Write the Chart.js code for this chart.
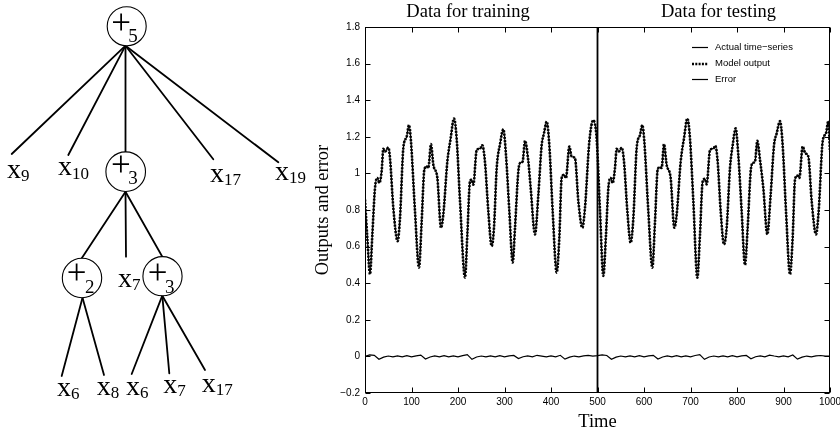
<!DOCTYPE html>
<html><head><meta charset="utf-8">
<script src="https://cdn.jsdelivr.net/npm/chart.js@4/dist/chart.umd.min.js"></script>
<style>
html,body{margin:0;padding:0;background:#fff;}
#wrap{position:relative;width:840px;height:434px;overflow:hidden;background:#fff;}
#c{position:absolute;left:0;top:0;}
#tree{position:absolute;left:0;top:0;pointer-events:none;}
</style></head><body>
<div id="wrap">
<canvas id="c" width="840" height="434"></canvas>
<svg id="tree" width="840" height="434" xmlns="http://www.w3.org/2000/svg" font-family="'Liberation Serif', 'Times New Roman', serif" fill="#000">
  <text x="468" y="17" text-anchor="middle" font-size="18.5">Data for training</text>
  <text x="718.5" y="17" text-anchor="middle" font-size="18.5">Data for testing</text>
  <g stroke="#000" stroke-width="1.8" stroke-linecap="round">
    <line x1="125.5" y1="45.7" x2="11.7" y2="154"/>
    <line x1="125.5" y1="45.7" x2="68.3" y2="155"/>
    <line x1="125.5" y1="45.7" x2="125.5" y2="151.7"/>
    <line x1="125.5" y1="45.7" x2="213.3" y2="159.3"/>
    <line x1="125.5" y1="45.7" x2="278.3" y2="162.3"/>
    <line x1="125.5" y1="191.7" x2="81.7" y2="258.3"/>
    <line x1="125.5" y1="191.7" x2="126" y2="256.7"/>
    <line x1="125.5" y1="191.7" x2="162.3" y2="256.7"/>
    <line x1="82.5" y1="297.7" x2="61.7" y2="376"/>
    <line x1="82.5" y1="297.7" x2="104" y2="375"/>
    <line x1="162.3" y1="295.7" x2="131.7" y2="374"/>
    <line x1="162.3" y1="295.7" x2="169.3" y2="373.3"/>
    <line x1="162.3" y1="295.7" x2="205" y2="370"/>
  </g>
  <g stroke="#000" stroke-width="1.1" fill="#fff">
    <circle cx="126.7" cy="26.2" r="19.5"/>
    <circle cx="125.7" cy="171.7" r="19.8"/>
    <circle cx="82" cy="278" r="19.7"/>
    <circle cx="162.5" cy="276.2" r="19.6"/>
  </g>
  <text x="121.2" y="33.9" text-anchor="middle" font-size="35">+</text>
  <text x="128.3" y="41.7" font-size="19">5</text>
  <text x="120.8" y="176" text-anchor="middle" font-size="35">+</text>
  <text x="128.3" y="184" font-size="19">3</text>
  <text x="76.7" y="283.9" text-anchor="middle" font-size="35">+</text>
  <text x="85" y="293" font-size="19">2</text>
  <text x="157.5" y="283.9" text-anchor="middle" font-size="35">+</text>
  <text x="165" y="293" font-size="19">3</text>
  <g font-size="28">
    <text x="7" y="178">x<tspan font-size="17" dy="3">9</tspan></text>
    <text x="58" y="175">x<tspan font-size="17" dy="4">10</tspan></text>
    <text x="210" y="182">x<tspan font-size="17" dy="3">17</tspan></text>
    <text x="275" y="180">x<tspan font-size="17" dy="3">19</tspan></text>
    <text x="118" y="287">x<tspan font-size="17" dy="3">7</tspan></text>
    <text x="57" y="396">x<tspan font-size="17" dy="3">6</tspan></text>
    <text x="96.7" y="395">x<tspan font-size="17" dy="3">8</tspan></text>
    <text x="126" y="395">x<tspan font-size="17" dy="3">6</tspan></text>
    <text x="163.3" y="393">x<tspan font-size="17" dy="3">7</tspan></text>
    <text x="201.7" y="392">x<tspan font-size="17" dy="3">17</tspan></text>
  </g>
</svg>
</div>
<script>
// ---- data ----
const timeKnots = [0,5,10.8,15.8,21.5,26.5,30.8,35.8,39.4,43.4,50.2,53.8,60.9,70.2,75.3,82.4,89.6,94.6,98.9,107.5,116.1,121.9,127.6,132.6,136.2,141.9,147,155.6,163.4,168.4,177.1,184.2,191.4,197.1,204.3,215.1,220.1,225.8,229.4,233,240.1,247.3,252.3,257.9,265.2,272.4,277.4,283.2,290.3,297.5,303.2,310.4,317.6,322.6,329.7,333.3,339,344.1,351.3,356.3,365.6,372.8,379.9,384.9,390.7,396.4,403.6,412.2,417.9,422.9,427.9,432.2,439.4,444.4,451.6,458.8,467.4,473.1,482.4,491,498.2,
505.4,512.5,518.3,523.3,528.3,532.6,537.6,541.2,546.2,552,557,564.2,571.3,577.1,584.2,591.4,596.4,600.7,609.3,617.9,623.7,629.4,634.4,638,643,648.7,657.3,665.2,670.3,678.9,686,693.2,698.9,706.1,714.7,720.4,726.2,731.2,734.8,741.9,749.1,753.4,758.4,764.9,772,777.8,784.9,790.7,797.1,802.8,810,817.2,822.9,829.4,833.7,838.7,843.7,849.5,856.6,865.2,872.4,879.6,885.3,892.5,898.2,905.4,914,919.7,924.7,929.7,934.1,941.2,946.9,953.4,960.6,969.9,975.6,984.2,991.4,996.4,1000];
const actualSeries = [0.857,0.648,0.449,0.667,0.92,0.975,0.948,1.011,1.134,1.12,1.141,1.083,0.812,0.63,0.757,1.138,1.2,1.264,1.174,0.793,0.485,0.739,1.02,1.038,1.03,1.16,1.047,0.975,0.703,0.775,1.065,1.192,1.3,1.19,0.848,0.43,0.667,0.957,0.966,0.938,1.127,1.136,1.154,1.065,0.793,0.603,0.703,1.029,1.159,1.241,1.1,0.793,0.513,0.703,1.011,1.056,1.065,1.178,1.065,0.92,0.667,0.884,1.154,1.219,1.283,1.154,0.793,0.458,0.648,0.975,0.993,0.975,1.147,1.092,1.083,0.848,0.703,0.812,1.174,1.29,1.19,
0.793,0.44,0.667,0.92,0.975,0.948,1.029,1.134,1.12,1.141,1.065,0.793,0.621,0.757,1.138,1.21,1.264,1.174,0.793,0.485,0.739,1.02,1.034,1.03,1.16,1.047,0.975,0.703,0.775,1.065,1.192,1.3,1.19,0.848,0.43,0.667,0.957,0.97,0.94,1.127,1.136,1.15,1.065,0.793,0.612,0.703,1.029,1.154,1.246,1.1,0.793,0.5,0.703,1.011,1.056,1.065,1.178,1.074,0.92,0.667,0.884,1.154,1.219,1.286,1.154,0.793,0.449,0.648,0.966,0.988,0.975,1.147,1.11,1.092,0.848,0.667,0.793,1.174,1.22,1.286,1.12];
const modelOutput = [0.857,0.648,0.449,0.667,0.92,0.975,0.948,1.011,1.134,1.12,1.141,1.083,0.812,0.63,0.757,1.138,1.2,1.264,1.174,0.793,0.485,0.739,1.02,1.038,1.03,1.16,1.047,0.975,0.703,0.775,1.065,1.192,1.3,1.19,0.848,0.43,0.667,0.957,0.966,0.938,1.127,1.136,1.154,1.065,0.793,0.603,0.703,1.029,1.159,1.241,1.1,0.793,0.513,0.703,1.011,1.056,1.065,1.178,1.065,0.92,0.667,0.884,1.154,1.219,1.283,1.154,0.793,0.458,0.648,0.975,0.993,0.975,1.147,1.092,1.083,0.848,0.703,0.812,1.174,1.29,1.19,
0.793,0.44,0.667,0.92,0.975,0.948,1.029,1.134,1.12,1.141,1.065,0.793,0.621,0.757,1.138,1.21,1.264,1.174,0.793,0.485,0.739,1.02,1.034,1.03,1.16,1.047,0.975,0.703,0.775,1.065,1.192,1.3,1.19,0.848,0.43,0.667,0.957,0.97,0.94,1.127,1.136,1.15,1.065,0.793,0.612,0.703,1.029,1.154,1.246,1.1,0.793,0.5,0.703,1.011,1.056,1.065,1.178,1.074,0.92,0.667,0.884,1.154,1.219,1.286,1.154,0.793,0.449,0.648,0.966,0.988,0.975,1.147,1.11,1.092,0.848,0.667,0.793,1.174,1.22,1.286,1.12];
const errorTimes = [0,10,20,30,40,50,60,70,80,90,100,110,120,130,140,150,160,170,180,190,200,210,220,230,240,250,260,270,280,290,300,310,320,330,340,350,360,370,380,390,400,410,420,430,440,450,460,470,480,490,500,510,520,530,540,550,560,570,580,590,600,610,620,630,640,650,660,670,680,690,700,710,720,730,740,750,760,770,780,790,800,810,820,830,840,850,860,870,880,890,900,910,920,930,940,950,960,970,980,990,1000];
const errorSeries = [0,0.008,0.006,-0.016,-0.004,0.002,-0.003,0.003,-0.002,0.004,-0.003,0.003,0.007,-0.014,-0.003,0.003,-0.002,0.004,-0.003,0.003,-0.002,0.004,0.01,-0.016,-0.003,0.002,-0.003,0.003,-0.002,0.004,-0.002,0.003,0.005,-0.012,-0.002,0.003,-0.002,0.006,0.002,-0.002,0.003,-0.002,0.006,-0.015,-0.004,0.002,-0.002,0.003,0.006,0.002,0.004,0.008,0.005,-0.016,-0.004,0.002,-0.003,0.003,-0.002,0.004,-0.002,0.003,0.006,-0.014,-0.003,0.003,-0.002,0.004,-0.003,0.003,-0.002,0.005,0.01,-0.016,-0.003,0.002,-0.003,0.003,-0.002,0.004,-0.002,0.003,0.005,-0.013,-0.002,0.003,-0.002,0.007,0.002,-0.002,0.003,-0.002,0.008,-0.015,-0.004,0.002,-0.002,0.003,0.005,0.002,0.002];
const splitTime = 500;
const xTicks = [0,100,200,300,400,500,600,700,800,900,1000];
const xTickLabels = ['0','100','200','300','400','500','600','700','800','900','1000'];
const yTicks = [-0.2,0,0.2,0.4,0.6,0.8,1,1.2,1.4,1.6,1.8];
const yTickLabels = ['\u22120.2','0','0.2','0.4','0.6','0.8','1','1.2','1.4','1.6','1.8'];
const seriesNames = ['Actual time\u2212series','Model output','Error'];
const xMin = 0, xMax = 1000, yMin = -0.2, yMax = 1.8;

const toXY = (xs, ys) => xs.map((t, i) => ({x: t, y: ys[i]}));

const SANS = "'Liberation Sans', Arial, sans-serif";
const SERIF = "'Liberation Serif', 'Times New Roman', serif";

const frame = {
  id: 'frame',
  afterDraw(chart) {
    const {ctx, chartArea: a, scales: {x, y}} = chart;
    ctx.save();
    ctx.strokeStyle = '#000';
    ctx.lineWidth = 1;
    const L = Math.round(a.left) + 0.5, R = Math.round(a.right) - 0.5;
    const T = Math.round(a.top) + 0.5, B = Math.round(a.bottom) - 0.5;
    ctx.strokeRect(L, T, R - L, B - T);
    ctx.beginPath();
    xTicks.forEach(v => {
      const px = Math.round(x.getPixelForValue(v)) + 0.5;
      ctx.moveTo(px, B); ctx.lineTo(px, B - 5);
      ctx.moveTo(px, T); ctx.lineTo(px, T + 5);
    });
    yTicks.forEach(v => {
      const py = Math.round(y.getPixelForValue(v)) + 0.5;
      ctx.moveTo(L, py); ctx.lineTo(L + 5, py);
      ctx.moveTo(R, py); ctx.lineTo(R - 5, py);
    });
    ctx.stroke();
    // legend
    const rows = [47, 63.5, 79];
    ctx.font = '9.5px ' + SANS;
    ctx.textBaseline = 'middle';
    ctx.textAlign = 'left';
    ctx.fillStyle = '#000';
    seriesNames.forEach((name, i) => {
      const ds = chart.data.datasets[i];
      ctx.save();
      ctx.strokeStyle = '#000';
      ctx.lineWidth = ds.borderWidth;
      ctx.setLineDash(ds.borderDash || []);
      ctx.beginPath();
      ctx.moveTo(692, rows[i] + 0.5);
      ctx.lineTo(708, rows[i] + 0.5);
      ctx.stroke();
      ctx.restore();
      ctx.fillText(name, 715, rows[i]);
    });
    ctx.restore();
  }
};

new Chart(document.getElementById('c'), {
  type: 'line',
  data: {
    datasets: [
      {label: seriesNames[0], data: toXY(timeKnots, actualSeries), borderColor: '#000', borderWidth: 1.2, pointRadius: 0, cubicInterpolationMode: 'monotone', order: 1},
      {label: seriesNames[1], data: toXY(timeKnots, modelOutput), borderColor: '#000', borderWidth: 2.6, borderDash: [2, 1.3], borderCapStyle: 'butt', pointRadius: 0, cubicInterpolationMode: 'monotone', order: 0},
      {label: seriesNames[2], data: toXY(errorTimes, errorSeries), borderColor: '#000', borderWidth: 1.2, pointRadius: 0, tension: 0, order: 2},
      {label: 'split', data: [{x: splitTime, y: yMin}, {x: splitTime, y: yMax}], borderColor: '#000', borderWidth: 1.8, pointRadius: 0, order: 3}
    ]
  },
  options: {
    responsive: false,
    animation: false,
    events: [],
    layout: {padding: {left: 312, right: 10, top: 27, bottom: 0}},
    plugins: {legend: {display: false}, tooltip: {enabled: false}, title: {display: false}},
    scales: {
      x: {
        type: 'linear', min: xMin, max: xMax,
        grid: {display: false, drawTicks: false}, border: {display: false},
        afterBuildTicks(s) { s.ticks = xTicks.map(v => ({value: v})); },
        afterFit(s) { s.height = 41; s.paddingLeft = 0; s.paddingRight = 0; },
        ticks: {padding: 3, autoSkip: false, maxRotation: 0, color: '#000', font: {family: SANS, size: 10}, callback: (v, i) => xTickLabels[i]},
        title: {display: true, text: 'Time', color: '#000', font: {family: SERIF, size: 18.5}, padding: {top: 0, bottom: 1}}
      },
      y: {
        type: 'linear', min: yMin, max: yMax,
        grid: {display: false, drawTicks: false}, border: {display: false},
        afterBuildTicks(s) { s.ticks = yTicks.map(v => ({value: v})); },
        afterFit(s) { s.width = 53; s.paddingTop = 0; s.paddingBottom = 0; },
        ticks: {padding: 5, autoSkip: false, color: '#000', font: {family: SANS, size: 10}, callback: (v, i) => yTickLabels[i]},
        title: {display: true, text: 'Outputs and error', color: '#000', font: {family: SERIF, size: 18.5}, padding: {top: 0, bottom: 0}}
      }
    }
  },
  plugins: [frame]
});
</script>
</body></html>
